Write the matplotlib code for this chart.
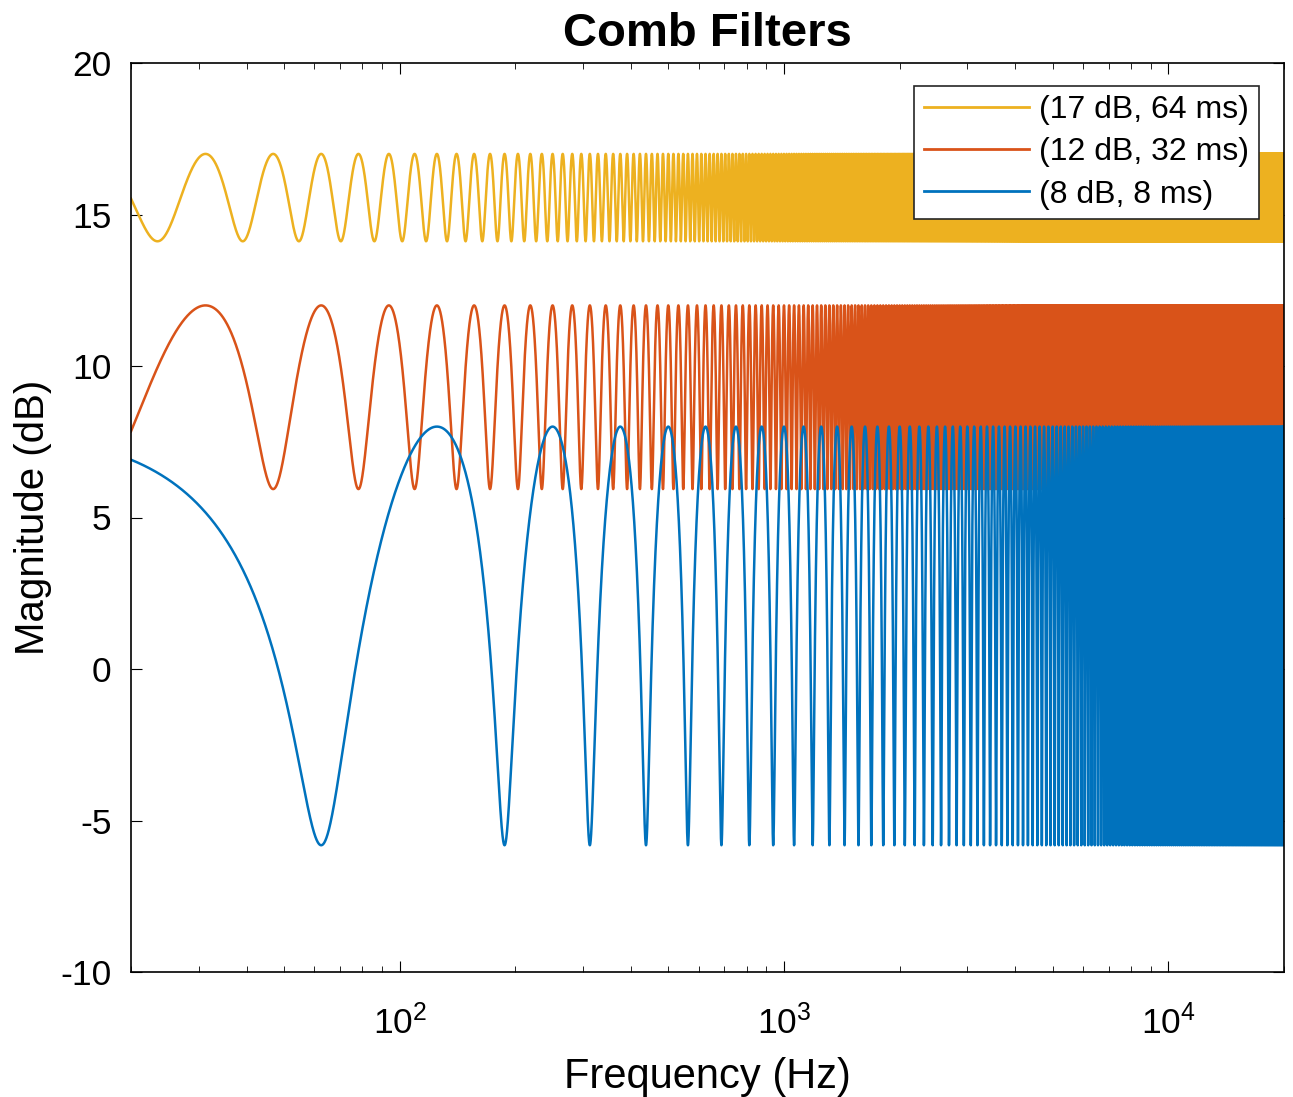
import numpy as np
import matplotlib.pyplot as plt

plt.rcParams['font.family'] = ['Liberation Sans', 'DejaVu Sans']
plt.rcParams['axes.unicode_minus'] = False
plt.rcParams['mathtext.fontset'] = 'custom'
plt.rcParams['mathtext.rm'] = 'Liberation Sans'

# comb filter settings: peak gain (dB), delay (ms)
labels = ['(17 dB, 64 ms)', '(12 dB, 32 ms)', '(8 dB, 8 ms)']
peak_db = [17, 12, 8]
delay_ms = [64, 32, 8]
colors = ['#EDB120', '#D95319', '#0072BD']

f_lo, f_hi = 20, 20000
freqs = np.linspace(f_lo, f_hi, 400000)

fig = plt.figure(figsize=(12.93, 10.97), dpi=100)
ax = fig.add_axes([131/1293, 1 - 972/1097, (1284-131)/1293, (972-63)/1097])

for lab, pk, d, c in zip(labels, peak_db, delay_ms, colors):
    g = 10**(pk/20) - 1
    h = np.abs(1 + g*np.exp(-2j*np.pi*freqs*d/1000))
    ax.plot(freqs, 20*np.log10(h), color=c, lw=1.8, label=lab)

ax.set_xscale('log')
ax.set_xlim(f_lo, f_hi)
ax.set_ylim(-10, 20)
ax.set_yticks([-10, -5, 0, 5, 10, 15, 20])
ax.tick_params(which='both', direction='in', top=True, right=True, labelsize=25.5, pad=14)
ax.tick_params(axis='x', which='both', pad=23)
ax.tick_params(which='major', length=8)
ax.tick_params(which='minor', length=4)
for s in ax.spines.values():
    s.set_linewidth(1.2)
ax.set_xlabel('Frequency (Hz)', fontsize=30, labelpad=12)
ax.set_ylabel('Magnitude (dB)', fontsize=29, labelpad=6)
ax.set_title('Comb Filters', fontsize=34, fontweight='bold', pad=12)

leg = ax.legend(loc='upper right', fontsize=23, fancybox=False, framealpha=1,
                edgecolor='#262626', handlelength=3.3, borderpad=0.3, borderaxespad=0,
                labelspacing=0.38, handletextpad=0.3, bbox_to_anchor=(0.978, 0.975))
leg.get_frame().set_linewidth(1.2)
for ln in leg.get_lines():
    ln.set_linewidth(2)

fig.savefig('out.png', dpi=100)
